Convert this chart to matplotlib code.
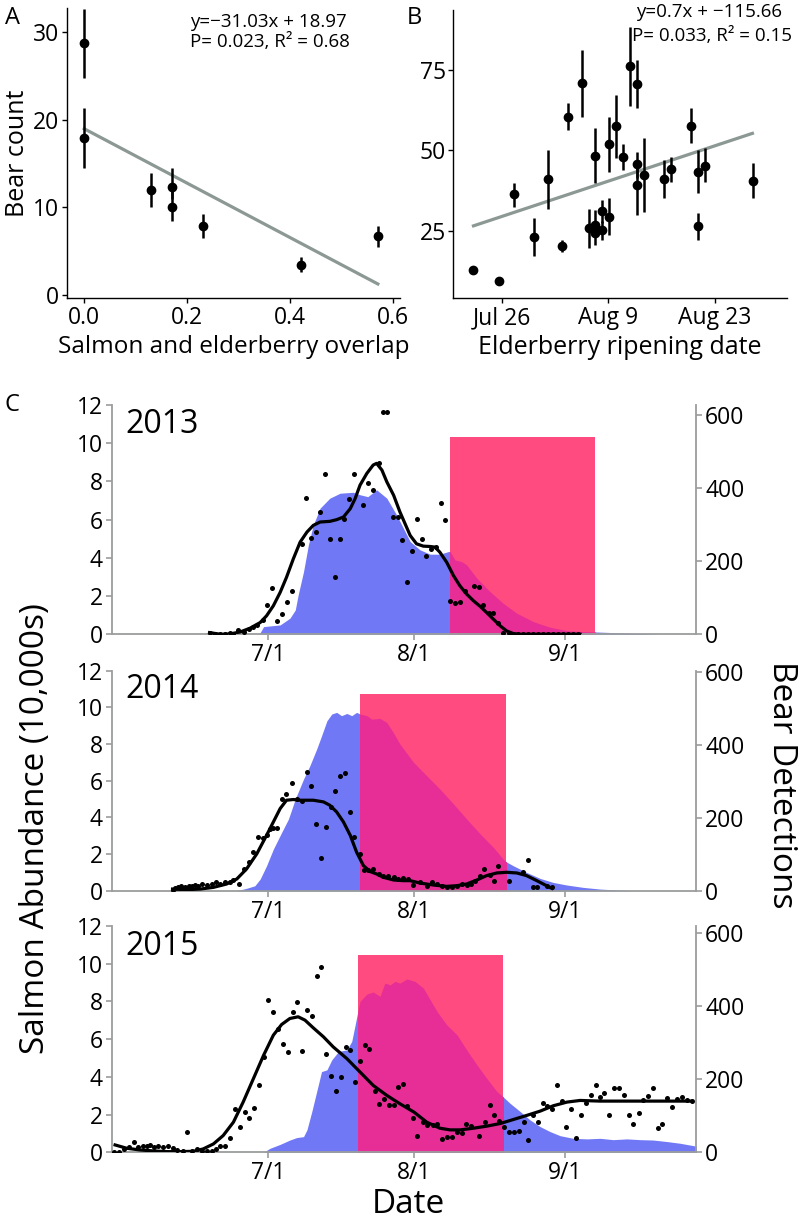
import matplotlib
matplotlib.use("Agg")
import matplotlib.pyplot as plt
from matplotlib.patches import Rectangle

plt.rcParams["font.family"] = ["Open Sans", "DejaVu Sans"]

# ---- panel A: bear count vs salmon/elderberry overlap ----
overlap = [0.0, 0.0, 0.13, 0.17, 0.17, 0.23, 0.42, 0.57]
bear_count_a = [28.8, 17.9, 12.0, 12.3, 10.0, 7.9, 3.4, 6.7]
bear_lo_a = [24.8, 14.5, 10.0, 11.0, 8.5, 6.5, 2.6, 5.5]
bear_hi_a = [32.6, 21.3, 13.9, 14.5, 12.0, 9.3, 4.3, 7.9]
fit_a_slope, fit_a_icept = -31.03, 18.97
fit_a_range = [0.0, 0.57]

# ---- panel B: bear count vs elderberry ripening date (day of year) ----
ripe_doy = [203.2, 206.7, 208.6, 211.3, 213.1, 214.9, 215.7, 217.5, 218.5, 219.3,
            219.3, 219.3, 220.2, 220.2, 221.1, 221.1, 222.0, 222.9, 223.8, 224.7,
            224.7, 224.7, 225.7, 228.3, 229.2, 231.9, 232.8, 232.8, 233.7, 240.0]
bear_count_b = [12.8, 9.3, 36.3, 23.0, 41.0, 20.3, 60.5, 70.9, 25.7, 48.4,
                26.8, 24.2, 25.2, 31.2, 52.0, 29.4, 57.6, 48.0, 76.3, 70.6,
                45.7, 39.2, 42.3, 41.1, 44.1, 57.6, 43.4, 26.6, 45.2, 40.6]
bear_lo_b = [11.6, 8.8, 32.5, 17.1, 31.7, 18.5, 56.4, 60.5, 19.5, 39.8,
             23.5, 20.5, 22.0, 27.3, 43.4, 23.7, 47.5, 43.9, 63.8, 63.1,
             41.3, 29.9, 30.9, 35.1, 40.3, 52.2, 36.6, 22.1, 40.3, 35.1]
bear_hi_b = [14.0, 9.8, 39.9, 28.9, 50.1, 22.1, 64.7, 81.3, 31.7, 56.9,
             31.5, 27.0, 28.0, 34.6, 60.5, 35.1, 67.2, 52.0, 88.5, 78.1,
             49.6, 46.0, 53.8, 47.0, 48.0, 63.1, 50.1, 30.4, 50.7, 46.0]
fit_b_x = [203.3, 239.9]
fit_b_y = [26.5, 55.3]
date_ticks_b = [207, 221, 235]
date_labels_b = ["Jul 26", "Aug 9", "Aug 23"]

# ---- panel C: salmon abundance (10,000s) and bear detections ----
salmon_doy_2013 = [181.2, 182.1, 185.5, 187.5, 188.6, 189.2, 190.3, 191.3, 192.3, 193.7,
                   195.7, 197.8, 200.5, 201.9, 203.5, 205.3, 207.4, 209.4, 210.5, 212.2,
                   214.2, 216.3, 218.3, 220.1, 220.4, 221.4, 222.8, 223.8, 225.9, 228.6,
                   231.3, 234.1, 237.5, 240.9, 244.4, 247.8, 250.5, 254.6, 259.4, 263.5]
salmon_2013 = [0.0, 0.4, 0.49, 0.84, 1.27, 2.06, 3.28, 4.68, 5.72, 6.6,
               7.12, 7.38, 7.43, 7.3, 7.2, 7.56, 7.12, 6.25, 5.7, 4.85,
               4.42, 4.19, 4.19, 4.33, 4.33, 3.89, 3.8, 3.63, 2.93, 2.23,
               1.62, 1.1, 0.66, 0.37, 0.19, 0.14, 0.12, 0.08, 0.04, 0.0]
bear_doy_2013 = [171.0, 172.1, 173.2, 174.2, 175.2, 175.9, 176.9, 178.0, 179.0, 179.9,
                 180.7, 181.9, 182.9, 183.9, 184.9, 185.8, 186.9, 187.9, 189.9, 190.8,
                 191.8, 192.8, 193.7, 194.7, 195.7, 196.8, 197.7, 198.7, 199.7, 200.7,
                 202.6, 203.6, 204.6, 205.7, 206.6, 207.5, 208.6, 209.6, 210.6, 211.5,
                 212.5, 213.5, 214.6, 215.5, 216.4, 217.5, 218.5, 219.4, 220.4, 221.4,
                 222.4, 223.5, 225.3, 226.3, 227.2, 228.3, 229.3, 230.3, 231.3, 232.4,
                 233.4, 234.4, 235.4, 236.4, 237.4, 238.5, 239.5, 240.5, 241.5, 242.6,
                 243.6, 244.6, 245.7, 246.7]
bear_2013 = [2.7, 0, 0, 0.9, 2.7, 1.8, 11.0, 6.4, 13.7, 20.2,
             24.7, 38.5, 80.6, 125.5, 35.7, 55.0, 87.0, 119.1, 245.5, 372.8,
             262.9, 279.4, 334.3, 437.8, 259.2, 157.6, 261.1, 314.2, 371.0, 437.8,
             352.7, 412.2, 395.7, 467.2, 607.3, 607.3, 319.7, 319.7, 256.5, 142.0,
             226.3, 314.2, 259.2, 213.4, 233.6, 238.2, 360.0, 311.4, 91.6, 85.2,
             87.0, 119.1, 132.8, 128.2, 79.7, 59.5, 57.7, 32.1, 4.6, 2.7,
             0.9, 0, 0, 0, 0, 0, 0, 0, 0, 0,
             0, 0, 0.9, 1.8]
smooth_doy_2013 = [171.0, 173.2, 175.2, 177.3, 179.3, 181.4, 182.7, 184.1, 185.5, 186.8,
                   188.2, 189.6, 191.0, 192.3, 193.7, 195.7, 197.1, 198.5, 199.9, 200.9,
                   201.9, 203.3, 204.6, 205.3, 206.4, 207.4, 208.8, 210.1, 212.2, 213.5,
                   214.9, 216.3, 217.3, 218.3, 219.7, 221.1, 222.4, 223.8, 225.2, 226.6,
                   227.9, 229.3, 230.7, 232.0, 233.4, 234.8, 240.9, 247.1]
smooth_2013 = [4.6, 0, 0.9, 6.4, 16.5, 32.1, 50.4, 77.9, 114.5, 155.7,
               206.1, 251.9, 279.4, 297.7, 306.9, 308.7, 313.3, 320.6, 343.5, 371.0,
               407.6, 439.7, 462.6, 467.2, 448.8, 416.8, 380.1, 334.3, 270.2, 247.3,
               240.9, 240.0, 238.2, 224.4, 196.9, 160.3, 132.8, 109.9, 91.6, 76.0,
               59.5, 41.2, 22.9, 9.2, 1.8, 0, 0, 0]
ripe_2013 = [220.3, 250.2, 10.3]

salmon_doy_2014 = [176.6, 178.6, 180.3, 181.4, 182.7, 184.1, 185.8, 187.2, 188.6, 190.3,
                   191.6, 193.0, 194.0, 195.1, 196.1, 197.1, 198.1, 199.2, 200.2, 201.2,
                   201.9, 203.3, 204.3, 206.0, 207.4, 208.7, 210.1, 212.9, 215.6, 218.3,
                   221.1, 223.8, 226.6, 229.3, 231.3, 231.9, 233.4, 236.1, 238.9, 241.6,
                   244.4, 247.8, 251.2, 254.6, 258.0]
salmon_2014 = [0.0, 0.13, 0.27, 0.64, 1.36, 2.27, 3.18, 3.91, 5.0, 6.09,
               6.82, 7.73, 8.45, 9.27, 9.64, 9.73, 9.55, 9.67, 9.55, 9.73,
               9.64, 9.55, 9.36, 9.4, 9.18, 8.64, 8.0, 7.0, 6.27, 5.55,
               4.73, 3.91, 3.09, 2.36, 1.73, 1.58, 1.36, 1.0, 0.67, 0.45,
               0.31, 0.18, 0.09, 0.04, 0.0]
bear_doy_2014 = [163.4, 164.0, 164.5, 165.2, 166.0, 166.7, 167.3, 168.0, 168.7, 169.4,
                 170.4, 171.5, 172.3, 173.2, 174.2, 175.1, 175.9, 177.1, 178.1, 179.1,
                 180.0, 181.0, 181.9, 182.7, 183.4, 184.1, 184.8, 185.8, 186.8, 187.9,
                 188.9, 189.9, 191.0, 191.8, 192.9, 193.9, 194.9, 195.9, 196.8, 197.8,
                 198.8, 199.9, 200.7, 201.8, 202.7, 203.6, 204.6, 205.7, 206.7, 207.7,
                 208.8, 209.8, 210.8, 211.8, 212.7, 214.2, 215.6, 216.6, 217.7, 218.7,
                 219.7, 220.7, 221.8, 222.8, 223.8, 224.6, 225.5, 226.6, 227.4, 228.5,
                 229.4, 230.3, 232.4, 235.3, 236.3, 237.4, 238.3, 240.2, 241.3]
bear_2014 = [2.8, 6.4, 11.0, 13.8, 9.2, 11.9, 13.8, 15.6, 13.8, 18.4,
             15.6, 18.4, 23.0, 18.4, 23.0, 24.8, 29.4, 18.4, 59.7, 80.0,
             105.7, 147.1, 144.3, 151.6, 170.0, 171.9, 171.9, 252.7, 266.5, 294.1,
             250.9, 245.4, 326.2, 286.7, 183.8, 89.1, 175.5, 229.8, 273.9, 314.3,
             321.7, 216.0, 147.0, 101.1, 57.9, 57.9, 59.7, 46.0, 41.4, 39.5,
             36.8, 32.2, 34.0, 32.2, 15.6, 23.0, 13.8, 23.0, 18.4, 13.8,
             9.2, 11.0, 13.8, 18.4, 15.6, 18.4, 27.6, 41.4, 59.7, 43.2,
             27.6, 68.9, 27.6, 50.5, 85.5, 11.0, 11.0, 13.8, 9.2]
smooth_doy_2014 = [163.4, 166.3, 169.1, 171.8, 174.5, 176.6, 178.6, 180.7, 182.7, 184.1,
                   185.5, 186.8, 188.2, 189.6, 192.3, 194.4, 195.7, 197.1, 198.5, 199.9,
                   201.2, 202.6, 204.0, 205.3, 206.7, 208.8, 210.8, 212.2, 214.2, 217.0,
                   219.7, 221.8, 223.8, 225.9, 227.9, 230.0, 232.0, 234.1, 236.1, 238.2,
                   240.2, 241.3]
smooth_2014 = [4.6, 2.8, 4.6, 9.2, 18.4, 32.2, 59.7, 101.1, 151.6, 188.4,
               225.2, 248.1, 250.0, 248.1, 248.1, 243.5, 234.3, 216.0, 188.4, 151.6,
               105.7, 68.9, 52.4, 46.0, 36.8, 29.4, 27.6, 27.6, 21.1, 15.6,
               11.9, 13.8, 18.4, 29.4, 41.4, 48.7, 50.5, 48.7, 41.4, 27.6,
               13.8, 6.4]
ripe_2014 = [201.9, 231.9, 10.73]

salmon_doy_2015 = [182.1, 183.4, 185.5, 187.5, 188.9, 190.3, 191.0, 192.0, 193.0, 194.0,
                   195.1, 196.1, 197.5, 199.2, 200.2, 200.9, 201.6, 201.9, 203.3, 204.6,
                   206.0, 207.0, 208.1, 209.1, 210.1, 211.5, 213.2, 214.9, 216.3, 217.7,
                   219.7, 221.8, 223.8, 225.9, 227.9, 230.0, 231.2, 232.7, 234.8, 236.8,
                   238.9, 240.9, 243.0, 245.7, 248.5, 251.2, 253.9, 256.7, 259.4, 262.1,
                   264.9, 267.6, 270.4, 271.0]
salmon_2015 = [0.0, 0.21, 0.42, 0.65, 0.78, 0.83, 1.19, 2.16, 3.22, 4.28,
               4.37, 4.9, 5.35, 5.43, 5.88, 6.76, 7.65, 8.0, 8.39, 8.5,
               8.27, 8.97, 8.88, 9.06, 8.97, 9.19, 9.06, 8.71, 8.09, 7.47,
               6.76, 6.23, 5.43, 4.64, 3.93, 3.22, 2.96, 2.6, 2.16, 1.72,
               1.36, 1.1, 0.88, 0.74, 0.71, 0.74, 0.67, 0.71, 0.67, 0.65,
               0.57, 0.48, 0.35, 0.33]
bear_doy_2015 = [151.4, 152.5, 153.4, 154.5, 155.5, 156.4, 157.3, 158.1, 158.8, 159.5,
                 160.5, 161.4, 162.4, 163.4, 164.4, 165.5, 166.3, 167.3, 168.4, 169.4,
                 170.4, 171.5, 172.3, 173.2, 174.2, 175.2, 176.2, 177.3, 178.2, 179.1,
                 180.1, 181.2, 182.2, 183.1, 184.1, 185.1, 186.0, 187.1, 188.1, 189.0,
                 190.0, 191.0, 192.1, 193.0, 193.9, 194.9, 195.9, 196.9, 197.9, 199.0,
                 199.9, 200.9, 201.9, 202.9, 203.8, 204.9, 205.8, 206.8, 207.8, 208.8,
                 209.8, 210.7, 211.6, 212.7, 213.7, 214.8, 215.7, 216.8, 217.7, 218.7,
                 219.7, 220.7, 221.8, 222.8, 223.7, 224.7, 226.4, 227.6, 228.6, 229.5,
                 230.5, 231.5, 232.5, 233.5, 234.6, 235.5, 236.4, 237.4, 238.4, 239.4,
                 240.2, 241.3, 242.3, 243.3, 244.3, 245.2, 246.3, 247.2, 248.3, 249.3,
                 250.3, 251.2, 252.1, 253.1, 254.1, 255.1, 256.1, 257.2, 258.0, 259.1,
                 260.1, 261.1, 262.1, 263.0, 264.0, 265.0, 265.9, 266.9, 268.0, 269.0,
                 270.0]
bear_2015 = [0, 0, 9.2, 13.7, 27.5, 13.7, 16.5, 18.3, 20.1, 13.7,
             16.5, 13.7, 16.5, 11.0, 7.3, 4.6, 56.7, 4.6, 9.2, 4.6,
             4.6, 4.6, 9.2, 16.5, 16.5, 38.4, 117.1, 68.6, 109.8, 93.3,
             120.8, 183.0, 260.8, 416.3, 382.5, 336.7, 297.4, 274.5, 384.3, 411.8,
             277.2, 388.0, 373.3, 481.3, 506.0, 269.0, 208.6, 168.4, 205.0, 288.2,
             279.1, 192.2, 248.9, 294.6, 281.8, 166.5, 130.8, 146.4, 128.1, 128.1,
             178.4, 187.6, 126.3, 93.3, 43.9, 82.4, 75.0, 75.0, 77.8, 36.6,
             41.2, 43.0, 54.9, 53.1, 77.8, 71.4, 43.9, 82.4, 128.1, 100.7,
             86.9, 68.6, 54.9, 54.9, 59.5, 82.4, 33.9, 100.7, 82.4, 135.4,
             126.3, 119.0, 183.0, 139.1, 70.5, 119.0, 39.3, 102.5, 134.5, 157.4,
             183.9, 151.0, 162.0, 100.7, 175.7, 175.7, 157.4, 102.5, 77.8, 107.1,
             141.8, 152.8, 175.7, 65.9, 77.8, 148.2, 123.5, 144.6, 151.0, 141.8,
             140.9]
smooth_doy_2015 = [151.6, 154.0, 156.7, 159.5, 162.2, 164.9, 167.7, 169.7, 171.8, 173.8,
                   175.9, 177.9, 180.0, 182.1, 184.1, 185.8, 187.5, 189.2, 190.6, 192.3,
                   194.4, 196.4, 199.2, 201.9, 204.6, 207.4, 210.1, 213.0, 215.6, 218.3,
                   220.4, 222.5, 225.2, 227.9, 230.7, 233.4, 236.1, 238.9, 241.6, 244.4,
                   247.1, 251.2, 258.0, 264.9, 270.0]
smooth_2015 = [20.1, 11.0, 6.4, 3.7, 1.8, 1.8, 2.7, 9.2, 22.9, 45.8,
               82.4, 137.3, 201.3, 265.4, 320.3, 349.5, 366.0, 370.6, 361.4, 340.4,
               315.7, 288.2, 256.2, 219.6, 183.0, 155.6, 132.7, 109.8, 82.4, 65.9,
               61.3, 61.3, 65.9, 71.4, 78.7, 89.7, 100.7, 112.6, 127.3, 137.3,
               141.8, 140.0, 140.0, 140.0, 140.0]
ripe_2015 = [201.4, 231.2, 10.44]

years = ["2013", "2014", "2015"]
date_ticks_c = [183, 213, 244]
date_labels_c = ["7/1", "8/1", "9/1"]

BLUE = "#7078f5"
PINK = "#ff4b80"
MAGENTA = "#e62e96"
FIT = "#8c9893"
GRAY = "#9a9d9c"
TICK_FS = 16.5

fig = plt.figure(figsize=(8, 12.2), dpi=100)

# ---------------- panel A ----------------
axA = fig.add_axes([0.0834, 0.7555, 0.4166, 0.2377])
fx = fit_a_range
axA.plot(fx, [fit_a_slope * v + fit_a_icept for v in fx], color=FIT, lw=2.3, zorder=1)
axA.errorbar(overlap, bear_count_a,
             yerr=[[b - l for b, l in zip(bear_count_a, bear_lo_a)],
                   [h - b for b, h in zip(bear_count_a, bear_hi_a)]],
             fmt="o", color="black", ms=6, elinewidth=1.8, capsize=0, zorder=3)
axA.set_xlim(-0.034, 0.613)
axA.set_ylim(-0.35, 32.7)
axA.set_xticks([0.0, 0.2, 0.4, 0.6])
axA.set_yticks([0, 10, 20, 30])
axA.set_xlabel("Salmon and elderberry overlap", fontsize=17.5, labelpad=4)
axA.set_ylabel("Bear count", fontsize=18, labelpad=2)
axA.text(0.37, 0.985, "y=\u221231.03x + 18.97\nP= 0.023, R\u00b2 = 0.68",
         transform=axA.transAxes, fontsize=13.5, va="top", ha="left", linespacing=1.15)

# ---------------- panel B ----------------
axB = fig.add_axes([0.5666, 0.7555, 0.4168, 0.2363])
axB.plot(fit_b_x, fit_b_y, color=FIT, lw=2.3, zorder=1)
axB.errorbar(ripe_doy, bear_count_b,
             yerr=[[b - l for b, l in zip(bear_count_b, bear_lo_b)],
                   [h - b for b, h in zip(bear_count_b, bear_hi_b)]],
             fmt="o", color="black", ms=6, elinewidth=1.8, capsize=0, zorder=3)
axB.set_xlim(200.65, 244.4)
axB.set_ylim(3.95, 93.7)
axB.set_xticks(date_ticks_b)
axB.set_xticklabels(date_labels_b)
axB.set_yticks([25, 50, 75])
axB.set_xlabel("Elderberry ripening date", fontsize=18, labelpad=4)
axB.text(0.548, 1.025, "y=0.7x + \u2212115.66", transform=axB.transAxes,
         fontsize=13.5, va="top", ha="left")
axB.text(0.535, 0.94, "P= 0.033, R\u00b2 = 0.15", transform=axB.transAxes,
         fontsize=13.5, va="top", ha="left")

for ax in (axA, axB):
    for side in ("top", "right"):
        ax.spines[side].set_visible(False)
    for side in ("left", "bottom"):
        ax.spines[side].set_linewidth(1.0)
    ax.tick_params(labelsize=TICK_FS, length=3.5, width=1, pad=2)

fig.text(0.006, 0.985, "A", fontsize=17, va="center", ha="left")
fig.text(0.508, 0.985, "B", fontsize=17, va="center", ha="left")
fig.text(0.006, 0.668, "C", fontsize=17, va="center", ha="left")

# ---------------- panel C ----------------
c_rects = [[0.1396, 0.4801, 0.7304, 0.1880],
           [0.1396, 0.2699, 0.7304, 0.1803],
           [0.1396, 0.0555, 0.7304, 0.1855]]
right_tops = [627, 603, 619]
year_label_y = [0.916, 0.917, 0.908]
salmon_all = [(salmon_doy_2013, salmon_2013), (salmon_doy_2014, salmon_2014),
              (salmon_doy_2015, salmon_2015)]
bear_all = [(bear_doy_2013, bear_2013), (bear_doy_2014, bear_2014),
            (bear_doy_2015, bear_2015)]
smooth_all = [(smooth_doy_2013, smooth_2013), (smooth_doy_2014, smooth_2014),
              (smooth_doy_2015, smooth_2015)]
ripe_all = [ripe_2013, ripe_2014, ripe_2015]

for i in range(3):
    ax = fig.add_axes(c_rects[i])
    sx, sy = salmon_all[i]
    r0, r1, rtop = ripe_all[i]
    ax.fill_between(sx, 0, sy, color=BLUE, lw=0, zorder=1)
    rect = Rectangle((r0, 0), r1 - r0, rtop, facecolor=PINK, lw=0, zorder=2)
    ax.add_patch(rect)
    # salmon inside the ripening window shows through the pink
    inside = ax.fill_between(sx, 0, sy, color=MAGENTA, lw=0, zorder=2.5)
    inside.set_clip_path(rect)
    ax.set_xlim(150.9, 270.9)
    ax.set_ylim(0, 12)
    ax.set_yticks(range(0, 13, 2))
    ax.set_xticks(date_ticks_c)
    ax.set_xticklabels(date_labels_c)
    ax.text(0.023, year_label_y[i], years[i], transform=ax.transAxes,
            fontsize=23, va="center", ha="left")

    ax2 = ax.twinx()
    bx, by = bear_all[i]
    ax2.scatter(bx, by, s=13, color="black", lw=0, zorder=3)
    mx, my = smooth_all[i]
    ax2.plot(mx, my, color="black", lw=2.3, zorder=4)
    ax2.set_ylim(0, right_tops[i])
    ax2.set_yticks([0, 200, 400, 600])

    for a in (ax, ax2):
        a.spines["top"].set_visible(False)
        for side in ("left", "right", "bottom"):
            a.spines[side].set_color(GRAY)
            a.spines[side].set_linewidth(1.3)
        a.tick_params(labelsize=TICK_FS, length=4.5, width=1.2, color=GRAY, pad=2)
    ax.spines["right"].set_visible(False)
    ax2.spines["left"].set_visible(False)
    ax2.spines["bottom"].set_visible(False)

fig.text(0.045, 0.3205, "Salmon Abundance (10,000s)", fontsize=24,
         rotation=90, va="center", ha="center")
fig.text(0.977, 0.357, "Bear Detections", fontsize=24,
         rotation=270, va="center", ha="center")
fig.text(0.51, 0.0123, "Date", fontsize=24, va="center", ha="center")

fig.savefig("out.png", dpi=100)
